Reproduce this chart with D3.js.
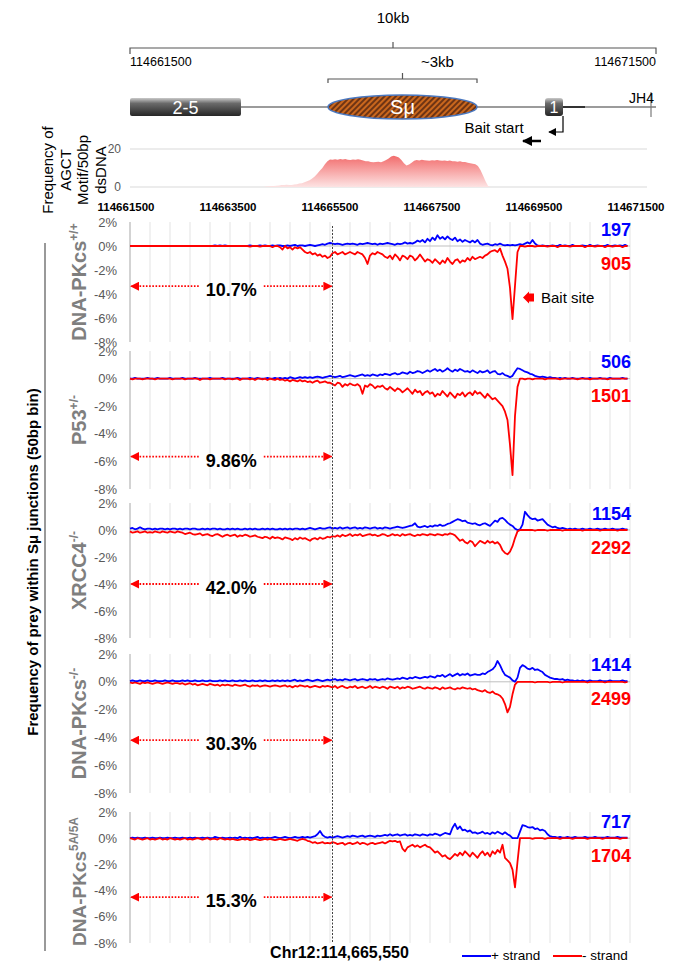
<!DOCTYPE html>
<html lang="en">
<head>
<meta charset="UTF-8">
<title>Frequency of prey within Sμ junctions</title>
<script src="https://d3js.org/d3.v7.min.js"></script>
<style>
	body { margin: 0; background: #fff; }
	svg text { font-family: "Liberation Sans", Arial, sans-serif; }
</style>
</head>
<body>
<div id="chart"></div>
<script>

	// ---- data ----
	var binStart = 114661500;
	var binSize = 50;
	var axisTicks = [114661500, 114663500, 114665500, 114667500, 114669500, 114671500];
	var yTicks = [2, 0, -2, -4, -6, -8];
	var markCoord = 114665550;

	var panelNames = ["DNA-PKcs", "P53", "XRCC4", "DNA-PKcs", "DNA-PKcs"];
	var panelSups = ["+/+", "+/-", "-/-", "-/-", "5A/5A"];
	var plusCounts = [197, 506, 1154, 1414, 717];
	var minusCounts = [905, 1501, 2292, 2499, 1704];
	var leftPct = ["10.7%", "9.86%", "42.0%", "30.3%", "15.3%"];
	var pctLevel = [-3.35, -5.65, -4.0, -4.2, -4.5];

	// gene schematic (genomic coords)
	var geneBox25 = [114661500, 114663610];
	var smuRegion = [114665264, 114668097];
	var geneBox1 = [114669390, 114669732];
	var jh4Coord = 114671405;

	// AGCT motif frequency per 50bp bin
	var agct = [
		0,0,0,0,0,0,0,0,0,0,0,0,0,0,0,0,0,0,0,0,
		0,0,0,0,0,0,0,0,0,0,0,0,0,0,0,0,0,0,0,0,
		0,0,0,0,0,0,0,0,0,0,0,0,0,0,0,0.3,0.4,0.5,0.5,0.6,
		0.8,1,1,1.2,1,1.1,1.3,1.5,1.8,2,2.5,3,3.5,4.5,5.5,7,8.5,10,12,13.5,
		14.5,14.3,14.6,14.4,14.8,14.5,14.7,14.4,14.2,14.5,14.3,14.6,14.4,14,13.6,13.5,13.2,13,13.1,13.3,
		13,13.5,14.2,15,16,16.4,16,15.5,14.2,12.5,11.3,11.8,12.8,13.8,14.2,14,14.3,14.1,14,13.8,
		14.1,13.9,14.2,14,13.8,14,13.7,13.9,13.5,13.6,13.3,13.5,13.1,13.2,12.8,12.5,12.2,12,11,9,
		6,3,0.5,0,0,0,0,0,0,0,0,0,0,0,0,0,0,0,0,0,
		0,0,0,0,0,0,0,0,0,0,0,0,0,0,0,0,0,0,0,0,
		0,0,0,0,0,0,0,0,0,0,0,0,0,0,0,0,0,0,0,0
	];

	// % of junctions per 50bp bin, + strand (blue) and - strand (red)
	var plus1 = [
		0,0,0,0,0,0,0,0,0,0,0,0,0,0,0,0,0,0,0,0,
		0,0,0,0,0,0,0,0,0,0,0,0,0,0,0.05,0,0.05,0,0.05,0,
		0,0,0,0,0,0,0,0,0.05,0,0,0,0.05,0,0.05,0,0,0.05,0,0.05,
		0.05,0,0,0.05,0,0.05,0.1,0,0.05,0.05,0,0.05,0.1,0.05,0,0.05,0.1,0.15,0.1,0.2,
		0.25,0.2,0.15,0.2,0.15,0.1,0.15,0.2,0.15,0.2,0.15,0.1,0.2,0.15,0.2,0.25,0.2,0.15,0.2,0.1,
		0.2,0.15,0.2,0.25,0.2,0.15,0.1,0.2,0.15,0.2,0.3,0.2,0.25,0.2,0.3,0.45,0.35,0.5,0.3,0.6,
		0.4,0.7,0.5,0.9,0.6,0.75,0.55,0.8,0.6,0.5,0.7,0.4,0.55,0.35,0.5,0.4,0.3,0.45,0.3,0.5,
		0.2,0.1,0.15,0.2,0.1,0.05,0.15,0.1,0.2,0.1,0.05,0.1,0.05,0.1,0.05,0.1,0.15,0.1,0.2,0.3,
		0.2,0.5,0.2,0.05,0,0.05,0,0,0,0.05,0,0,0.1,0,0.05,0,0,0.1,0,0,
		0,0.05,0,0,0.1,0,0,0.05,0,0,0,0.1,0,0,0.05,0,0.05,0,0.1,0
	];
	var minus1 = [
		0,0,0,0,0,0,0,0,0,0,0,0,0,0,0,0,0,0,0,0,
		0,0,0,0,0,0,0,0,0,0,0,0,0,0,0,0,0,0,0,0,
		0,0,0,0,0,0,0,0,-0.05,0,0,0,-0.05,0,0,0,0,-0.1,0,0,
		-0.1,-0.3,0,-0.2,-0.1,-0.3,-0.1,-0.2,-0.1,-0.3,-0.5,-0.6,-0.5,-0.7,-0.6,-0.8,-0.7,-0.9,-0.8,-1.0,
		-0.9,-0.6,-0.5,-0.7,-0.6,-0.5,-0.7,-0.6,-0.5,-0.6,-0.7,-0.5,-0.6,-0.7,-1.0,-1.5,-0.8,-0.6,-0.7,-0.5,
		-0.6,-0.7,-0.9,-1.0,-0.8,-1.1,-0.7,-0.9,-1.2,-0.8,-0.9,-1.1,-0.8,-0.9,-1.2,-1.0,-0.7,-1.0,-1.3,-1.1,
		-1.2,-1.4,-1.1,-1.3,-1.5,-1.2,-1.4,-1.0,-1.3,-1.5,-1.2,-1.1,-1.4,-1.2,-1.3,-1.0,-1.2,-0.9,-1.1,-1.0,
		-0.9,-1.0,-0.8,-0.7,-0.5,-0.4,-0.35,-0.5,-0.2,-0.8,-1.3,-1.9,-3.5,-6.1,-3.3,-0.5,0,0,-0.05,0,
		0,0,-0.05,0,0,0,0,-0.05,0,0,0,-0.1,0,0,0,0,-0.05,0,0,0,
		0,0,-0.1,0,0,0,-0.05,0,0,0,-0.1,0,0,-0.05,0,0,0,-0.1,0,0
	];

	var plus2 = [
		0,0,0.05,0,0,0,0,0.05,0,0,0,0.05,0,0,0,0,0.05,0,0,0,
		0,0.05,0,0,0,0,0.05,0,0,0,0,0,0.05,0,0,0,0,0.05,0,0,
		0,0,0,0.05,0,0,0,0,0.05,0,0,0.05,0,0,0,0.05,0,0,0.05,0,
		0.05,0,0.05,0,0.1,0.05,0,0.05,0.1,0.05,0.1,0.05,0.1,0.05,0.1,0.15,0.1,0.05,0.1,0.15,
		0.2,0.15,0.1,0.15,0.2,0.1,0.15,0.2,0.25,0.2,0.15,0.2,0.25,0.3,0.2,0.25,0.2,0.3,0.25,0.2,
		0.3,0.25,0.35,0.3,0.25,0.35,0.4,0.3,0.35,0.45,0.4,0.35,0.5,0.4,0.45,0.55,0.5,0.4,0.5,0.6,
		0.5,0.6,0.7,0.55,0.65,0.5,0.6,0.75,0.6,0.5,0.65,0.55,0.7,0.6,0.5,0.55,0.45,0.6,0.5,0.4,
		0.55,0.45,0.5,0.6,0.4,0.5,0.55,0.35,0.3,0.4,0.25,0.2,0.1,0.2,0.5,0.75,0.7,0.6,0.5,0.45,
		0.35,0.3,0.2,0.15,0.1,0.15,0.1,0.05,0.1,0.05,0.05,0,0.05,0,0.05,0,0,0.05,0,0,
		0,0.05,0,0,0.05,0,0,0,0.05,0,0,0,0.05,0,0,0,0,0.05,0,0
	];
	var minus2 = [
		0,-0.05,0,0,0,-0.05,0,0,0,0,-0.05,0,0,0,0,0,0,-0.05,0,0,
		0,0,-0.05,0,0,0,0,0,-0.1,0,0,0,-0.05,0,0,0,0,0,-0.05,0,
		0,-0.05,0,0,-0.1,0,0,0,-0.05,0,-0.1,0,0,-0.05,0,-0.1,0,-0.05,-0.1,0,
		-0.1,-0.05,-0.15,-0.1,-0.2,-0.1,-0.15,-0.2,-0.1,-0.2,-0.15,-0.25,-0.2,-0.3,-0.2,-0.15,-0.3,-0.25,-0.2,-0.3,
		-0.3,-0.4,-0.5,-0.3,-0.35,-0.6,-0.4,-0.5,-0.35,-0.45,-0.5,-0.4,-0.55,-1.1,-0.5,-0.6,-0.4,-0.5,-0.7,-0.55,
		-0.6,-0.5,-0.7,-0.8,-0.6,-0.75,-0.9,-0.7,-0.8,-1.0,-0.85,-0.7,-0.9,-1.1,-0.8,-1.0,-0.9,-1.2,-1.0,-0.9,
		-1.1,-1.0,-1.3,-1.1,-1.2,-0.9,-1.1,-1.3,-1.0,-1.2,-1.4,-1.1,-1.2,-1.0,-1.3,-1.1,-1.0,-1.2,-0.9,-1.1,
		-1.0,-1.2,-1.4,-1.1,-1.3,-1.5,-1.4,-1.6,-1.8,-2.0,-2.4,-3.0,-4.8,-7.0,-2.7,-0.6,0,0,-0.05,0,
		0,-0.05,0,0,0,0,-0.05,0,0,0,0,0,-0.05,0,0,0,0,0,0,-0.05,
		0,0,0,0,-0.05,0,0,0,0,0,0,-0.05,0,0,0,0,0,0,0,0
	];

	var plus3 = [
		0.1,0.15,0.05,0.1,0.2,0.1,0.05,0.1,0.1,0.05,0.1,0.05,0.1,0.1,0.05,0.1,0.05,0.1,0.1,0.05,
		0.1,0.05,0.1,0.1,0.05,0.1,0.1,0.05,0.05,0.1,0.05,0.1,0.05,0.1,0.1,0.05,0.1,0.05,0.05,0.1,
		0.05,0.1,0.05,0.1,0.05,0.05,0.1,0.05,0.1,0.05,0.1,0.05,0.05,0.1,0.05,0.1,0.05,0.1,0.05,0.05,
		0.1,0.05,0.1,0.05,0.1,0.05,0.1,0.1,0.05,0.1,0.05,0.1,0.15,0.1,0.05,0.1,0.15,0.1,0.1,0.15,
		0.2,0.1,0.15,0.1,0.2,0.1,0.15,0.2,0.1,0.15,0.2,0.1,0.15,0.1,0.2,0.15,0.1,0.15,0.2,0.1,
		0.15,0.1,0.2,0.15,0.1,0.15,0.2,0.25,0.2,0.15,0.2,0.25,0.3,0.35,0.5,0.25,0.2,0.25,0.3,0.2,
		0.3,0.25,0.35,0.3,0.4,0.3,0.35,0.45,0.5,0.6,0.7,0.8,0.75,0.65,0.7,0.55,0.5,0.45,0.5,0.4,
		0.35,0.45,0.5,0.4,0.3,0.5,0.7,0.6,0.85,0.9,0.75,0.55,0.4,0.3,0.1,0,0.05,0.4,1.35,1.1,
		0.9,0.8,0.85,0.7,0.75,0.8,0.6,0.4,0.3,0.2,0.25,0.15,0.1,0.15,0.1,0.05,0.1,0.05,0.1,0.05,
		0.05,0.1,0.05,0.05,0.1,0.05,0.05,0.1,0.05,0.05,0.1,0.05,0.05,0.1,0.05,0.05,0.05,0.1,0.05,0.05
	];
	var minus3 = [
		-0.1,-0.2,-0.15,-0.1,-0.2,-0.15,-0.1,-0.2,-0.15,-0.2,-0.1,-0.15,-0.2,-0.1,-0.15,-0.2,-0.1,-0.15,-0.2,-0.1,
		-0.15,-0.2,-0.3,-0.25,-0.2,-0.3,-0.35,-0.3,-0.25,-0.4,-0.35,-0.3,-0.4,-0.45,-0.35,-0.3,-0.4,-0.5,-0.4,-0.35,
		-0.45,-0.4,-0.35,-0.5,-0.4,-0.45,-0.35,-0.4,-0.5,-0.45,-0.4,-0.5,-0.55,-0.6,-0.5,-0.55,-0.65,-0.5,-0.6,-0.55,
		-0.6,-0.7,-0.55,-0.6,-0.65,-0.75,-0.6,-0.7,-0.55,-0.65,-0.6,-0.7,-0.8,-0.65,-0.6,-0.7,-0.55,-0.65,-0.6,-0.5,
		-0.55,-0.45,-0.5,-0.4,-0.5,-0.35,-0.45,-0.4,-0.3,-0.45,-0.35,-0.4,-0.3,-0.45,-0.4,-0.35,-0.3,-0.4,-0.35,-0.45,
		-0.4,-0.3,-0.35,-0.45,-0.4,-0.3,-0.4,-0.35,-0.45,-0.3,-0.4,-0.35,-0.3,-0.4,-0.45,-0.35,-0.4,-0.3,-0.35,-0.4,
		-0.3,-0.35,-0.4,-0.3,-0.35,-0.4,-0.3,-0.35,-0.25,-0.3,-0.4,-0.6,-0.8,-0.7,-0.9,-1.0,-0.8,-0.9,-1.2,-1.0,
		-0.8,-0.9,-1.0,-0.8,-0.95,-0.85,-1.0,-0.9,-1.1,-1.5,-1.7,-1.8,-1.6,-1.2,-0.6,-0.1,0,0,0,0,
		0,0,-0.05,0,0,0,0,-0.05,0,0,0,0,0,-0.05,0,0,0,0,0,0,
		0,-0.05,0,0,0,0,0,0,-0.05,0,0,0,0,0,0,-0.05,0,0,0,0
	];

	var plus4 = [
		0.05,0.1,0.05,0.05,0.1,0.05,0.05,0.1,0.05,0.05,0.1,0.05,0.05,0.05,0.1,0.05,0.05,0.1,0.05,0.05,
		0.05,0.1,0.05,0.1,0.05,0.05,0.1,0.05,0.05,0.1,0.05,0.05,0.1,0.05,0.05,0.05,0.1,0.05,0.1,0.05,
		0.05,0.1,0.05,0.05,0.1,0.05,0.1,0.05,0.05,0.1,0.05,0.05,0.1,0.05,0.1,0.05,0.05,0.1,0.05,0.1,
		0.05,0.1,0.05,0.1,0.05,0.1,0.15,0.05,0.1,0.05,0.1,0.15,0.1,0.05,0.1,0.15,0.1,0.05,0.1,0.15,
		0.1,0.15,0.2,0.1,0.15,0.1,0.2,0.15,0.1,0.15,0.2,0.1,0.15,0.2,0.15,0.1,0.2,0.15,0.2,0.1,
		0.15,0.2,0.15,0.25,0.2,0.15,0.2,0.25,0.2,0.3,0.25,0.2,0.3,0.25,0.35,0.3,0.25,0.3,0.35,0.3,
		0.4,0.35,0.3,0.45,0.4,0.5,0.35,0.45,0.55,0.4,0.5,0.6,0.45,0.55,0.5,0.6,0.45,0.5,0.55,0.5,
		0.5,0.6,0.55,0.7,0.8,0.9,1.1,1.5,1.2,0.8,0.5,0.4,0.3,0.1,0,0.3,1.0,1.2,1.1,0.95,
		0.9,1.0,0.85,0.9,0.8,0.7,0.5,0.4,0.3,0.25,0.2,0.2,0.15,0.2,0.1,0.15,0.1,0.1,0.05,0.1,
		0.05,0.1,0.05,0.05,0.1,0.05,0.05,0.05,0.1,0.05,0.05,0.05,0.1,0.05,0.05,0.05,0.05,0.1,0.05,0.05
	];
	var minus4 = [
		-0.05,-0.1,-0.05,-0.1,-0.15,-0.05,-0.1,-0.05,-0.1,-0.15,-0.1,-0.05,-0.1,-0.15,-0.1,-0.05,-0.1,-0.15,-0.1,-0.1,
		-0.15,-0.1,-0.2,-0.15,-0.1,-0.2,-0.15,-0.25,-0.2,-0.15,-0.2,-0.25,-0.15,-0.2,-0.25,-0.2,-0.3,-0.2,-0.25,-0.2,
		-0.25,-0.3,-0.2,-0.25,-0.3,-0.25,-0.2,-0.3,-0.35,-0.25,-0.3,-0.25,-0.35,-0.3,-0.25,-0.3,-0.35,-0.3,-0.25,-0.3,
		-0.35,-0.3,-0.25,-0.35,-0.3,-0.4,-0.3,-0.35,-0.25,-0.3,-0.35,-0.3,-0.4,-0.35,-0.3,-0.35,-0.4,-0.3,-0.35,-0.3,
		-0.35,-0.4,-0.3,-0.45,-0.35,-0.3,-0.4,-0.45,-0.35,-0.4,-0.3,-0.45,-0.4,-0.35,-0.45,-0.4,-0.3,-0.45,-0.35,-0.4,
		-0.45,-0.35,-0.4,-0.5,-0.35,-0.4,-0.45,-0.35,-0.5,-0.4,-0.45,-0.35,-0.4,-0.5,-0.45,-0.4,-0.35,-0.45,-0.5,-0.4,
		-0.45,-0.5,-0.4,-0.45,-0.55,-0.4,-0.5,-0.45,-0.4,-0.5,-0.55,-0.45,-0.5,-0.4,-0.45,-0.5,-0.45,-0.55,-0.5,-0.6,
		-0.65,-0.7,-0.6,-0.75,-0.8,-0.7,-0.85,-0.9,-1.0,-1.2,-1.6,-2.2,-1.8,-0.9,-0.2,0,0,0,0,0,
		0,0,-0.05,0,0,0,0,0,-0.05,0,0,0,0,-0.05,0,0,0,0,0,0,
		0,0,0,-0.05,0,0,0,0,0,0,-0.05,0,0,0,0,0,0,0,-0.05,0
	];

	var plus5 = [
		0,0.05,0,0.05,0,0,0.05,0,0,0.05,0,0,0.05,0,0,0.05,0,0,0.05,0,
		0,0.05,0,0,0.05,0,0.05,0,0,0.05,0,0.05,0,0,0.1,0.05,0,0.05,0,0,
		0.05,0,0.05,0,0.1,0,0.05,0,0.05,0,0.05,0.1,0,0.05,0,0.05,0,0.05,0.1,0.05,
		0,0.05,0.1,0.05,0,0.05,0.1,0.05,0.05,0.1,0.05,0.1,0.05,0.1,0.15,0.3,0.55,0.25,0.1,0.05,
		0.1,0.05,0.1,0.15,0.1,0.05,0.1,0.15,0.1,0.2,0.15,0.1,0.15,0.2,0.1,0.15,0.2,0.15,0.1,0.2,
		0.15,0.2,0.25,0.2,0.3,0.2,0.25,0.3,0.2,0.25,0.3,0.2,0.25,0.2,0.3,0.25,0.2,0.3,0.25,0.2,
		0.3,0.25,0.35,0.3,0.2,0.3,0.4,0.35,0.3,0.8,1.1,0.7,0.9,0.6,0.65,0.5,0.6,0.4,0.45,0.35,
		0.4,0.5,0.35,0.4,0.3,0.45,0.35,0.5,0.4,0.3,0.45,0.3,0.2,0,0,0,0.5,1.0,0.95,0.85,
		0.8,0.85,0.7,0.75,0.6,0.65,0.55,0.3,0.15,0.1,0.1,0.05,0.1,0.05,0.05,0.1,0.05,0.05,0.1,0.05,
		0.05,0.05,0.1,0.05,0.05,0.05,0.1,0.05,0.05,0.05,0.05,0.1,0.05,0.05,0.05,0.1,0.05,0.05,0.05,0.05
	];
	var minus5 = [
		0,-0.05,-0.1,0,-0.05,-0.1,-0.05,0,-0.1,-0.05,-0.1,-0.05,0,-0.1,-0.05,-0.1,0,-0.05,-0.1,-0.05,
		-0.1,-0.05,0,-0.1,-0.05,-0.1,-0.05,0,-0.05,-0.1,-0.05,0,-0.1,-0.05,-0.05,-0.1,0,-0.05,-0.1,-0.05,
		-0.1,-0.05,-0.1,-0.15,-0.1,-0.05,-0.1,-0.05,-0.15,-0.1,-0.05,-0.1,-0.15,-0.1,-0.05,-0.1,-0.05,-0.1,-0.15,-0.1,
		-0.05,-0.1,-0.15,-0.1,-0.05,-0.1,-0.15,-0.2,-0.1,-0.05,-0.1,-0.2,-0.25,-0.35,-0.3,-0.4,-0.35,-0.3,-0.4,-0.35,
		-0.4,-0.3,-0.35,-0.45,-0.4,-0.35,-0.5,-0.4,-0.35,-0.45,-0.4,-0.3,-0.45,-0.35,-0.4,-0.5,-0.4,-0.35,-0.45,-0.4,
		-0.35,-0.3,-0.4,-0.3,-0.2,-0.25,-0.2,-0.3,-0.25,-0.8,-1.0,-0.7,-0.6,-0.5,-0.65,-0.55,-0.7,-0.6,-0.5,-0.65,
		-0.7,-0.9,-1.1,-1.0,-1.2,-1.4,-1.3,-1.5,-1.6,-1.4,-1.2,-1.35,-1.1,-1.3,-1.0,-1.2,-1.4,-1.1,-1.3,-1.5,
		-1.2,-1.0,-1.3,-1.1,-1.4,-1.0,-1.2,-0.9,-1.1,-0.5,-1.5,-1.7,-1.9,-2.4,-3.75,-1.8,0,0,0,0,
		0,-0.05,0,0,0,0,-0.05,0,0,0,0,0,-0.05,0,0,0,0,-0.05,0,0,
		0,0,0,-0.05,0,0,0,0,0,-0.05,0,0,0,0,0,0,-0.05,0,0,0
	];

	var plusSeries = [plus1, plus2, plus3, plus4, plus5];
	var minusSeries = [minus1, minus2, minus3, minus4, minus5];

	// ---- layout ----
	var W = 674, H = 963;
	var panelBox = [[222, 342], [351, 489], [503, 638], [654, 793], [812, 943]];
	var font = "'Liberation Sans', Arial, sans-serif";

	var svg = d3.select("#chart").append("svg")
		.attr("width", W)
		.attr("height", H);

	var defs = svg.append("defs");

	// hatch for S mu
	var hatch = defs.append("pattern")
		.attr("id", "hatch")
		.attr("patternUnits", "userSpaceOnUse")
		.attr("width", 4)
		.attr("height", 4)
		.attr("patternTransform", "rotate(-45)");
	hatch.append("rect").attr("width", 4).attr("height", 4).attr("fill", "#6e3414");
	hatch.append("line").attr("x1", 0).attr("y1", 2).attr("x2", 4).attr("y2", 2)
		.attr("stroke", "#e2741f").attr("stroke-width", 1.6);

	var boxGrad = defs.append("linearGradient")
		.attr("id", "boxGrad").attr("x1", 0).attr("y1", 0).attr("x2", 0).attr("y2", 1);
	boxGrad.append("stop").attr("offset", "0%").attr("stop-color", "#c9c9c9");
	boxGrad.append("stop").attr("offset", "30%").attr("stop-color", "#6a6a6a");
	boxGrad.append("stop").attr("offset", "100%").attr("stop-color", "#262626");

	var areaGrad = defs.append("linearGradient")
		.attr("id", "areaGrad").attr("x1", 0).attr("y1", 0).attr("x2", 0).attr("y2", 1);
	areaGrad.append("stop").attr("offset", "0%").attr("stop-color", "#f26d6d");
	areaGrad.append("stop").attr("offset", "100%").attr("stop-color", "#fde3e3");

	function makeMarker(id, color, size) {
		defs.append("marker")
			.attr("id", id)
			.attr("viewBox", "0 0 10 10")
			.attr("refX", 9).attr("refY", 5)
			.attr("markerUnits", "userSpaceOnUse")
			.attr("markerWidth", size).attr("markerHeight", size)
			.attr("orient", "auto-start-reverse")
			.append("path")
			.attr("d", "M0,0 L10,5 L0,10 z")
			.attr("fill", color);
	}
	makeMarker("redHead", "#ff0000", 9);
	makeMarker("blackHead", "#000", 8);
	makeMarker("blackHeadBig", "#000", 10);

	// ---- gene schematic ----
	var xGene = d3.scaleLinear().domain([114661500, 114671500]).range([130, 656]);
	var gene = svg.append("g");

	gene.append("text").attr("x", xGene(114666500)).attr("y", 23)
		.attr("text-anchor", "middle").attr("font-size", 15).text("10kb");

	function bracket(g, x0, x1, y, up, down) {
		var xm = (x0 + x1) / 2;
		g.append("path")
			.attr("d", "M" + x0 + "," + (y + down) + " L" + x0 + "," + y + " L" + x1 + "," + y +
				" L" + x1 + "," + (y + down) + " M" + xm + "," + y + " L" + xm + "," + (y - up))
			.attr("fill", "none").attr("stroke", "#555").attr("stroke-width", 1.2);
	}
	bracket(gene, xGene(114661500), xGene(114671500), 48, 6, 6);
	bracket(gene, xGene(smuRegion[0]), xGene(smuRegion[1]), 79, 6, 4);

	gene.append("text").attr("x", xGene(114661500)).attr("y", 66)
		.attr("font-size", 12.5).text("114661500");
	gene.append("text").attr("x", xGene(114671500)).attr("y", 66)
		.attr("text-anchor", "end").attr("font-size", 12.5).text("114671500");
	gene.append("text").attr("x", (xGene(smuRegion[0]) + xGene(smuRegion[1])) / 2 + 35).attr("y", 67)
		.attr("text-anchor", "middle").attr("font-size", 15).text("~3kb");

	// backbone line
	gene.append("line")
		.attr("x1", xGene(geneBox25[1])).attr("x2", xGene(114671500))
		.attr("y1", 107).attr("y2", 107)
		.attr("stroke", "#7a7a7a").attr("stroke-width", 1.5);
	gene.append("line")
		.attr("x1", xGene(geneBox1[1])).attr("x2", xGene(geneBox1[1]) + 22)
		.attr("y1", 107).attr("y2", 107)
		.attr("stroke", "#333").attr("stroke-width", 2);

	gene.append("rect")
		.attr("x", xGene(geneBox25[0])).attr("y", 98)
		.attr("width", xGene(geneBox25[1]) - xGene(geneBox25[0])).attr("height", 18)
		.attr("rx", 2).attr("fill", "url(#boxGrad)");
	gene.append("text")
		.attr("x", (xGene(geneBox25[0]) + xGene(geneBox25[1])) / 2).attr("y", 113.5)
		.attr("text-anchor", "middle").attr("font-size", 18).attr("fill", "#fff").text("2-5");

	var smuCx = (xGene(smuRegion[0]) + xGene(smuRegion[1])) / 2;
	gene.append("ellipse")
		.attr("cx", smuCx).attr("cy", 107)
		.attr("rx", (xGene(smuRegion[1]) - xGene(smuRegion[0])) / 2).attr("ry", 12)
		.attr("fill", "url(#hatch)").attr("stroke", "#4a78c0").attr("stroke-width", 1.5);
	gene.append("text")
		.attr("x", smuCx).attr("y", 114)
		.attr("text-anchor", "middle").attr("font-size", 20).attr("fill", "#fff").text("Sμ");

	gene.append("rect")
		.attr("x", xGene(geneBox1[0])).attr("y", 98)
		.attr("width", xGene(geneBox1[1]) - xGene(geneBox1[0])).attr("height", 18)
		.attr("rx", 3).attr("fill", "url(#boxGrad)");
	gene.append("text")
		.attr("x", (xGene(geneBox1[0]) + xGene(geneBox1[1])) / 2).attr("y", 113)
		.attr("text-anchor", "middle").attr("font-size", 16).attr("fill", "#fff").text("1");

	gene.append("line")
		.attr("x1", xGene(jh4Coord)).attr("x2", xGene(jh4Coord))
		.attr("y1", 92).attr("y2", 117)
		.attr("stroke", "#7a7a7a").attr("stroke-width", 1.2);
	gene.append("text").attr("x", xGene(jh4Coord) + 3).attr("y", 103)
		.attr("text-anchor", "end").attr("font-size", 14).text("JH4");

	// bait start elbow arrow
	var bx = xGene(geneBox1[1]);
	gene.append("path")
		.attr("d", "M" + bx + ",116 L" + bx + ",132 L" + (bx - 14) + ",132")
		.attr("fill", "none").attr("stroke", "#000").attr("stroke-width", 1.2)
		.attr("marker-end", "url(#blackHead)");
	gene.append("text").attr("x", bx - 69).attr("y", 133)
		.attr("text-anchor", "middle").attr("font-size", 15).text("Bait start");
	gene.append("line")
		.attr("x1", bx - 22).attr("x2", bx - 40)
		.attr("y1", 141).attr("y2", 141)
		.attr("stroke", "#000").attr("stroke-width", 2.5)
		.attr("marker-end", "url(#blackHeadBig)");

	// ---- AGCT motif chart ----
	var xTop = d3.scaleLinear().domain([114661500, 114671500]).range([126, 636]);
	var yAgct = d3.scaleLinear().domain([0, 20]).range([187, 149]);
	var motifG = svg.append("g");

	motifG.selectAll("line.hgrid")
		.data([0, 20])
		.enter().append("line")
		.attr("class", "hgrid")
		.attr("x1", 130).attr("x2", 647)
		.attr("y1", function (d) { return yAgct(d); })
		.attr("y2", function (d) { return yAgct(d); })
		.attr("stroke", "#d9d9d9").attr("stroke-width", 1);

	motifG.append("path")
		.datum(agct)
		.attr("d", d3.area()
			.x(function (d, i) { return xTop(binStart + i * binSize); })
			.y0(yAgct(0))
			.y1(function (d) { return yAgct(d); }))
		.attr("fill", "url(#areaGrad)");

	motifG.selectAll("text.ay")
		.data([0, 20])
		.enter().append("text")
		.attr("class", "ay")
		.attr("x", 121)
		.attr("y", function (d) { return yAgct(d) + 4; })
		.attr("text-anchor", "end").attr("font-size", 12).attr("fill", "#595959")
		.text(function (d) { return d; });

	motifG.selectAll("text.ax")
		.data(axisTicks)
		.enter().append("text")
		.attr("class", "ax")
		.attr("x", function (d) { return xTop(d); })
		.attr("y", 211)
		.attr("text-anchor", "middle").attr("font-size", 11.5).attr("font-weight", "bold")
		.text(function (d) { return d; });

	var agctLabel = ["Frequency of", "AGCT", "Motif/50bp", "dsDNA"];
	motifG.selectAll("text.al")
		.data(agctLabel)
		.enter().append("text")
		.attr("class", "al")
		.attr("transform", function (d, i) { return "translate(" + (53 + i * 17.5) + ",170) rotate(-90)"; })
		.attr("text-anchor", "middle").attr("font-size", 15)
		.text(function (d) { return d; });

	// ---- junction panels ----
	var x = d3.scaleLinear().domain([114661500, 114671500]).range([130, 630]);
	var gridCoords = d3.range(0, 26).map(function (k) { return 114661500 + 400 * k; });

	panelBox.forEach(function (box, p) {
		var y = d3.scaleLinear().domain([2, -8]).range(box);
		var g = svg.append("g");

		g.selectAll("line.vgrid")
			.data(gridCoords)
			.enter().append("line")
			.attr("class", "vgrid")
			.attr("x1", function (d) { return x(d); })
			.attr("x2", function (d) { return x(d); })
			.attr("y1", box[0]).attr("y2", box[1])
			.attr("stroke", function (d, i) { return i === 0 ? "#c4c4c4" : "#e3e3e3"; })
			.attr("stroke-width", function (d, i) { return i === 0 ? 1.5 : 1; });

		g.append("line")
			.attr("x1", x(114661500)).attr("x2", x(114671500))
			.attr("y1", y(0)).attr("y2", y(0))
			.attr("stroke", "#bfbfbf");

		var axis = d3.axisLeft(y)
			.tickValues(yTicks)
			.tickSize(0)
			.tickPadding(0)
			.tickFormat(function (d) { return d + "%"; });
		var ga = g.append("g")
			.attr("transform", "translate(117,0)")
			.call(axis);
		ga.select(".domain").remove();
		ga.selectAll("text")
			.attr("font-family", font)
			.attr("font-size", 13)
			.attr("fill", "#595959");

		var line = d3.line()
			.x(function (d, i) { return x(binStart + i * binSize); })
			.y(function (d) { return y(d); });

		g.append("path")
			.datum(plusSeries[p])
			.attr("d", line)
			.attr("fill", "none").attr("stroke", "#0000ff").attr("stroke-width", 1.8)
			.attr("stroke-linejoin", "round");
		g.append("path")
			.datum(minusSeries[p])
			.attr("d", line)
			.attr("fill", "none").attr("stroke", "#ff0000").attr("stroke-width", 1.8)
			.attr("stroke-linejoin", "round");

		// counts
		g.append("text")
			.attr("x", 631).attr("y", y(0) - 17 + 6.5)
			.attr("text-anchor", "end").attr("font-size", 18).attr("font-weight", "bold")
			.attr("fill", "#0000ff").text(plusCounts[p]);
		g.append("text")
			.attr("x", 631).attr("y", y(0) + 17 + 6.5)
			.attr("text-anchor", "end").attr("font-size", 18).attr("font-weight", "bold")
			.attr("fill", "#ff0000").text(minusCounts[p]);

		// % left of marker, red dotted double arrow
		var ay = y(pctLevel[p]);
		var xa = x(114661500), xb = x(markCoord);
		var pt = g.append("text")
			.attr("x", (xa + xb) / 2).attr("y", ay + 10)
			.attr("text-anchor", "middle").attr("font-size", 18).attr("font-weight", "bold")
			.attr("font-family", font)
			.text(leftPct[p]);
		var tw = pt.node().getComputedTextLength();
		g.append("line")
			.attr("x1", (xa + xb) / 2 - tw / 2 - 7).attr("x2", xa + 1)
			.attr("y1", ay).attr("y2", ay)
			.attr("stroke", "#ff0000").attr("stroke-width", 1.8).attr("stroke-dasharray", "1.6,1.6")
			.attr("marker-end", "url(#redHead)");
		g.append("line")
			.attr("x1", (xa + xb) / 2 + tw / 2 + 7).attr("x2", xb - 1)
			.attr("y1", ay).attr("y2", ay)
			.attr("stroke", "#ff0000").attr("stroke-width", 1.8).attr("stroke-dasharray", "1.6,1.6")
			.attr("marker-end", "url(#redHead)");

		// genotype label
		var lab = g.append("text")
			.attr("transform", "translate(86," + ((box[0] + box[1]) / 2 + (p === 4 ? 4 : 0)) + ") rotate(-90)")
			.attr("text-anchor", "middle").attr("font-size", p === 4 ? 19 : 20).attr("font-weight", "bold")
			.attr("fill", "#7f7f7f");
		lab.append("tspan").text(panelNames[p]);
		lab.append("tspan").attr("dy", -8).attr("font-size", 12).text(panelSups[p]);

		if (p === 0) {
			// bait site marker
			var by = y(-4.3);
			g.append("path")
				.attr("d", "M523," + by + " L529," + (by - 6) + " L529," + (by - 4) + " L534," + (by - 4) +
					" L534," + (by + 4) + " L529," + (by + 4) + " L529," + (by + 6) + " Z")
				.attr("fill", "#ff0000");
			g.append("text").attr("x", 541).attr("y", by + 5.5)
				.attr("font-size", 15).text("Bait site");
		}
	});

	// marker coordinate line
	svg.append("line")
		.attr("x1", x(markCoord)).attr("x2", x(markCoord))
		.attr("y1", panelBox[0][0] + 4).attr("y2", panelBox[4][1])
		.attr("stroke", "#404040").attr("stroke-width", 1).attr("stroke-dasharray", "2,1.5");

	svg.append("text").attr("x", x(markCoord) + 7).attr("y", 958)
		.attr("text-anchor", "middle").attr("font-size", 16).attr("font-weight", "bold")
		.text("Chr12:114,665,550");

	// overall y label and bar
	svg.append("line")
		.attr("x1", 45).attr("x2", 45).attr("y1", 243).attr("y2", 951)
		.attr("stroke", "#555").attr("stroke-width", 1.2);
	svg.append("text")
		.attr("transform", "translate(38,562) rotate(-90)")
		.attr("text-anchor", "middle").attr("font-size", 15).attr("font-weight", "bold")
		.text("Frequency of prey within Sμ junctions (50bp bin)");

	// legend
	var legend = svg.append("g");
	var legItems = [{ label: "+ strand", color: "#0000ff", x: 462 }, { label: "- strand", color: "#ff0000", x: 553 }];
	legItems.forEach(function (d) {
		legend.append("line")
			.attr("x1", d.x).attr("x2", d.x + 29).attr("y1", 956).attr("y2", 956)
			.attr("stroke", d.color).attr("stroke-width", 2);
		legend.append("text").attr("x", d.x + 29).attr("y", 960)
			.attr("font-size", 13.5).text(d.label);
	});

	svg.selectAll("text").attr("font-family", font);

</script>
</body>
</html>
